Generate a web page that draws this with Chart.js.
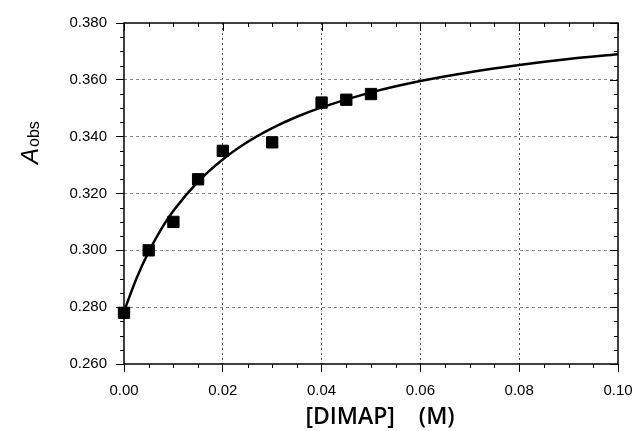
<!DOCTYPE html>
<html>
<head>
<meta charset="utf-8">
<script src="https://cdn.jsdelivr.net/npm/chart.js@4.4.1/dist/chart.umd.min.js"></script>
<style>
  html, body { margin: 0; padding: 0; background: #fff; }
  #wrap { width: 635px; height: 431px; }
</style>
</head>
<body>
<div id="wrap"><canvas id="chart" width="635" height="431"></canvas></div>
<script>
// measured points: [DIMAP] (M) vs A_obs
const concentrations = [0, 0.005, 0.01, 0.015, 0.02, 0.03, 0.04, 0.045, 0.05];
const absorbances = [0.278, 0.300, 0.310, 0.325, 0.335, 0.338, 0.352, 0.353, 0.355];

// fitted curve
const fitX = [0, 0.0025, 0.005, 0.0075, 0.01, 0.015, 0.02, 0.025, 0.03, 0.035, 0.04, 0.05, 0.06, 0.07, 0.08, 0.09, 0.10];
const fitY = [0.2785, 0.2900, 0.2995, 0.3074, 0.3139, 0.3242, 0.3320, 0.3381, 0.3430, 0.3470, 0.3503, 0.3556, 0.3596, 0.3627, 0.3652, 0.3673, 0.3690];

// axis ticks
const xTicks = [0, 0.02, 0.04, 0.06, 0.08, 0.10];
const yTicks = [0.26, 0.28, 0.30, 0.32, 0.34, 0.36, 0.38];
const xMinorStep = 0.005;
const yMinorStep = 0.005;

const isEdge = (v, list) => Math.abs(v - list[0]) < 1e-9 || Math.abs(v - list[list.length - 1]) < 1e-9;

// frame, minor ticks and mirrored ticks (Origin style)
const framePlugin = {
  id: 'frame',
  afterDatasetsDraw(chart) {
    const { ctx, chartArea: a, scales: { x, y } } = chart;
    ctx.save();
    ctx.strokeStyle = '#000';
    ctx.lineWidth = 1;
    ctx.beginPath();
    // minor ticks x
    for (let v = xTicks[0]; v <= xTicks[xTicks.length - 1] + 1e-9; v += xMinorStep) {
      const px = Math.round(x.getPixelForValue(v)) + 0.5;
      const major = xTicks.some(t => Math.abs(t - v) < 1e-9);
      const len = major ? 8 : 4;
      if (!major) { ctx.moveTo(px, a.bottom); ctx.lineTo(px, a.bottom + len); }
      ctx.moveTo(px, a.top); ctx.lineTo(px, a.top + len);
    }
    // minor ticks y
    for (let v = yTicks[0]; v <= yTicks[yTicks.length - 1] + 1e-9; v += yMinorStep) {
      const py = Math.round(y.getPixelForValue(v)) + 0.5;
      const major = yTicks.some(t => Math.abs(t - v) < 1e-9);
      const len = major ? 8 : 4;
      if (!major) { ctx.moveTo(a.left, py); ctx.lineTo(a.left - len, py); }
      ctx.moveTo(a.right, py); ctx.lineTo(a.right - len, py);
    }
    ctx.stroke();
    ctx.lineWidth = 1.5;
    ctx.strokeRect(a.left, a.top, a.right - a.left, a.bottom - a.top);
    ctx.restore();
  },
  afterDraw(chart) {
    const { ctx } = chart;
    ctx.save();
    ctx.fillStyle = '#000';
    // x axis title
    ctx.font = '600 23px "Open Sans", sans-serif';
    ctx.textAlign = 'center';
    ctx.textBaseline = 'middle';
    ctx.fillText('[DIMAP]    (M)', 380, 417);
    // y axis title: italic A with "obs"
    ctx.translate(38, 164);
    ctx.rotate(-Math.PI / 2);
    ctx.textAlign = 'left';
    ctx.textBaseline = 'alphabetic';
    ctx.font = 'italic 24px "Liberation Sans", Arial, sans-serif';
    ctx.fillText('A', 0, 0);
    const w = ctx.measureText('A').width;
    ctx.font = '16px "Liberation Sans", Arial, sans-serif';
    ctx.fillText('obs', w + 1, 1);
    ctx.restore();
  }
};

const ctx = document.getElementById('chart').getContext('2d');
new Chart(ctx, {
  type: 'scatter',
  data: {
    datasets: [
      {
        type: 'line',
        data: fitX.map((v, i) => ({ x: v, y: fitY[i] })),
        borderColor: '#000',
        borderWidth: 2.5,
        pointRadius: 0,
        cubicInterpolationMode: 'monotone',
        fill: false,
        order: 2
      },
      {
        data: concentrations.map((v, i) => ({ x: v, y: absorbances[i] })),
        pointStyle: 'rect',
        pointRadius: 8,
        backgroundColor: '#000',
        borderColor: '#000',
        borderWidth: 1,
        clip: false,
        order: 1
      }
    ]
  },
  options: {
    responsive: false,
    animation: false,
    layout: { padding: { top: 23, right: 17, left: 0, bottom: 0 } },
    plugins: { legend: { display: false }, tooltip: { enabled: false } },
    scales: {
      x: {
        type: 'linear',
        min: xTicks[0],
        max: xTicks[xTicks.length - 1],
        afterBuildTicks: s => { s.ticks = xTicks.map(v => ({ value: v })); },
        afterFit: s => { s.height = 431 - 364; s.paddingLeft = 0; s.paddingRight = 0; },
        ticks: {
          callback: v => v.toFixed(2),
          color: '#000',
          font: { family: '"Liberation Sans", Arial, sans-serif', size: 15 },
          padding: 10,
          maxRotation: 0
        },
        grid: {
          color: c => isEdge(c.tick.value, xTicks) ? 'rgba(0,0,0,0)' : '#555',
          lineWidth: 1,
          tickColor: '#000',
          tickLength: 8,
          tickBorderDash: []
        },
        border: { display: false, dash: [2, 3] }
      },
      y: {
        type: 'linear',
        min: yTicks[0],
        max: yTicks[yTicks.length - 1],
        afterBuildTicks: s => { s.ticks = yTicks.map(v => ({ value: v })); },
        afterFit: s => { s.width = 124; s.paddingTop = 0; s.paddingBottom = 0; },
        ticks: {
          callback: v => v.toFixed(3),
          color: '#000',
          font: { family: '"Liberation Sans", Arial, sans-serif', size: 15 },
          padding: 9
        },
        grid: {
          color: c => isEdge(c.tick.value, yTicks) ? 'rgba(0,0,0,0)' : '#888',
          lineWidth: 1,
          tickColor: '#000',
          tickLength: 8,
          tickBorderDash: []
        },
        border: { display: false, dash: [3, 3] }
      }
    }
  },
  plugins: [framePlugin]
});
</script>
</body>
</html>
